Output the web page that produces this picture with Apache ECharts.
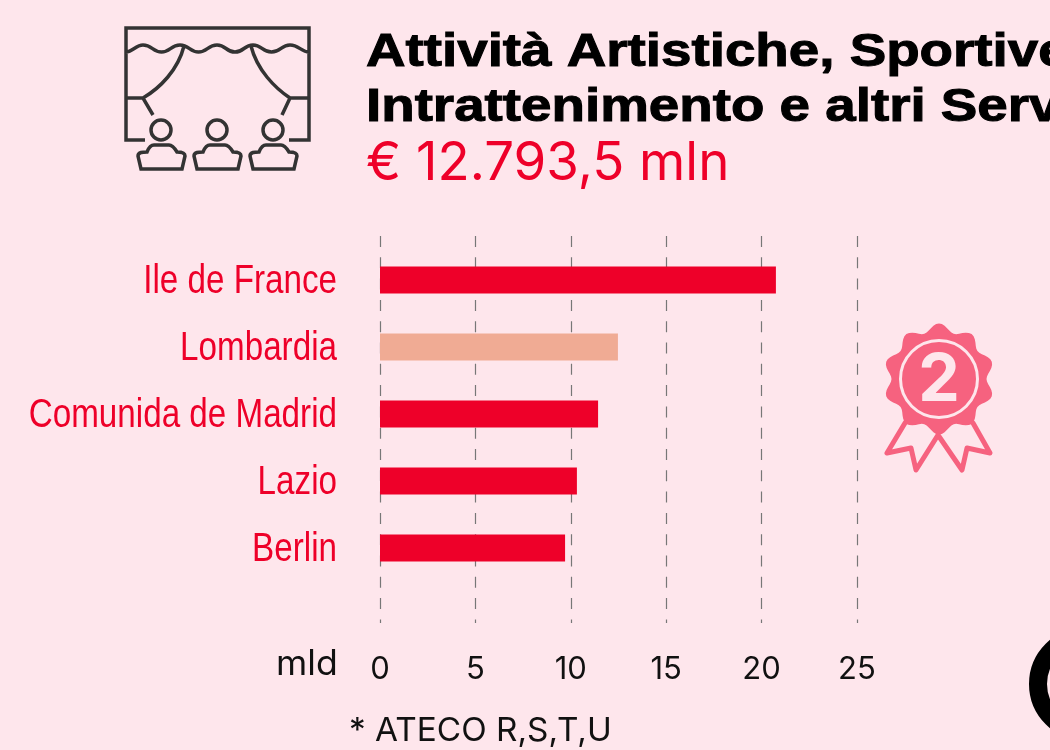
<!DOCTYPE html>
<html>
<head>
<meta charset="UTF-8">
<title>Attività Artistiche</title>
<script src="https://cdn.jsdelivr.net/npm/echarts@6/dist/echarts.min.js"></script>
<style>
html,body{margin:0;padding:0;background:#fee6ec;overflow:hidden;}
</style>
</head>
<body>
	<div id="main" style="width:1050px;height:750px;"></div>
</body>
</html>
<script type="text/javascript">
var categories = ['Ile de France', 'Lombardia', 'Comunida de Madrid', 'Lazio', 'Berlin'];
var values = [20.75, 12.47, 11.43, 10.32, 9.7];
var barColors = ['#ee0029', '#f0ab94', '#ee0029', '#ee0029', '#ee0029'];

var pink = '#f6627f';
var ink = '#333333';

var chart = echarts.init(document.getElementById('main'));

// icona sipario e pubblico
var stage = 'M19 112H0V0H183V112H163'
	+ 'M0 24C6 24 10 17 17 17C26 17 27 24 35.5 24C44 24 45 17 54 17C63 17 64 24 72.5 24C81 24 82 17 91 17C100 17 100 24 109 24C118 24 118 17 127 17C136 17 136 24 145.5 24C155 24 155 17 164 17C173 17 175 24 183 24'
	+ 'M58 18C52 42 34 60 17 70M125 18C131 42 149 60 164 70M0 70H17L27 87M183 70H164L156 87';
function person(x) {
	return 'M' + (x + 11) + ' 102a10 10 0 1 0 20 0a10 10 0 1 0 -20 0'
		+ 'M' + (x + 1) + ' 141H' + (x + 42) + 'L' + (x + 45) + ' 128C' + (x + 45) + ' 124 ' + (x + 40) + ' 124 ' + (x + 37) + ' 124C' + (x + 34) + ' 119 ' + (x + 32) + ' 117 ' + (x + 29) + ' 117H' + (x + 14) + 'C' + (x + 11) + ' 117 ' + (x + 9) + ' 119 ' + (x + 7) + ' 124C' + (x + 3) + ' 124 ' + (x - 2) + ' 124 ' + (x - 2) + ' 128Z';
}
echarts.graphic.registerShape('palco', echarts.graphic.extendPath(stage + person(14) + person(70) + person(126), {}));

// coccarda
var pts = [];
for (var i = 0; i < 120; i++) {
	var a = -Math.PI / 2 + i * Math.PI / 60;
	pts.push([(51.5 + 4 * Math.cos(10 * (a + Math.PI / 2))) * Math.cos(a), (51.5 + 4 * Math.cos(10 * (a + Math.PI / 2))) * Math.sin(a)]);
}

var option = {
	backgroundColor: '#fee6ec',
	animation: false,
	grid: [
		{left: 380, top: 236, width: 477, height: 387},
		{left: 380, top: 246.5, width: 477, height: 335}
	],
	xAxis: [
		{
			type: 'value', gridIndex: 0, min: 0, max: 25, interval: 5,
			axisLine: {show: false}, axisTick: {show: false},
			axisLabel: {margin: 31, color: '#111111', fontSize: 31, fontFamily: 'Inter'},
			splitLine: {show: true, lineStyle: {color: '#777777', width: 1.2, type: [11, 10.3]}}
		},
		{
			type: 'value', gridIndex: 1, min: 0, max: 25, interval: 5,
			axisLine: {show: false}, axisTick: {show: false},
			axisLabel: {show: false}, splitLine: {show: false}
		}
	],
	yAxis: [
		{type: 'value', gridIndex: 0, show: false},
		{
			type: 'category', gridIndex: 1, inverse: true, data: categories,
			axisLine: {show: false}, axisTick: {show: false},
			axisLabel: {show: false}
		}
	],
	series: [{
		type: 'bar',
		xAxisIndex: 1,
		yAxisIndex: 1,
		barWidth: 27,
		data: values.map(function (v, i) {
			return {value: v, itemStyle: {color: barColors[i]}};
		})
	}],
	graphic: [
		{type: 'palco', x: 126, y: 28, style: {fill: 'none', stroke: ink, lineWidth: 3.5}},
		{type: 'text', x: 366, y: 30, scaleX: 1.19, style: {text: 'Attività Artistiche, Sportive,', fill: '#000', stroke: '#000', lineWidth: 1, font: 'bold 46px "Liberation Sans"'}},
		{type: 'text', x: 366, y: 85, scaleX: 1.19, style: {text: 'Intrattenimento e altri Servizi*', fill: '#000', stroke: '#000', lineWidth: 1, font: 'bold 46px "Liberation Sans"'}},
		{type: 'text', x: 366, y: 138, style: {text: '€ 12.793,5 mln', fill: '#ee0029', font: '52.8px Inter'}},
		{type: 'text', x: 276, y: 647, scaleX: 1.02, style: {text: 'mld', fill: '#111', font: '35px Inter'}},
		{type: 'text', x: 349, y: 715, scaleX: 1.01, style: {text: '* ATECO R,S,T,U', fill: '#111', font: '33px Inter'}},
		{type: 'polygon', x: 939, y: 379, shape: {points: pts}, style: {fill: pink}},
		{type: 'circle', x: 939, y: 379, shape: {r: 38.5}, style: {fill: 'none', stroke: '#fee6ec', lineWidth: 3}},
		{type: 'text', x: 939, y: 381, style: {text: '2', fill: '#fee6ec', font: 'bold 66px Inter', align: 'center', verticalAlign: 'middle'}},
		{type: 'polyline', shape: {points: [[905, 423], [887, 453], [911, 448], [916, 470], [938, 435], [962, 470], [967, 448], [990, 453], [973, 423]]},
			style: {fill: 'none', stroke: pink, lineWidth: 5, lineJoin: 'round', lineCap: 'round'}},
		{type: 'circle', x: 1086, y: 684, shape: {r: 48}, style: {fill: 'none', stroke: '#000', lineWidth: 18}}
	]
};
chart.setOption(option);

// etichette strette: il font condensato non c'e', si comprime il testo
var labels = categories.map(function (name, i) {
	return {
		type: 'text',
		x: 337,
		y: chart.convertToPixel({yAxisIndex: 1}, name) + 2,
		scaleX: 0.81,
		style: {text: name, fill: '#ee0029', font: '41px "Liberation Sans"', align: 'right', verticalAlign: 'middle'}
	};
});
chart.setOption({graphic: option.graphic.concat(labels)});
</script>
